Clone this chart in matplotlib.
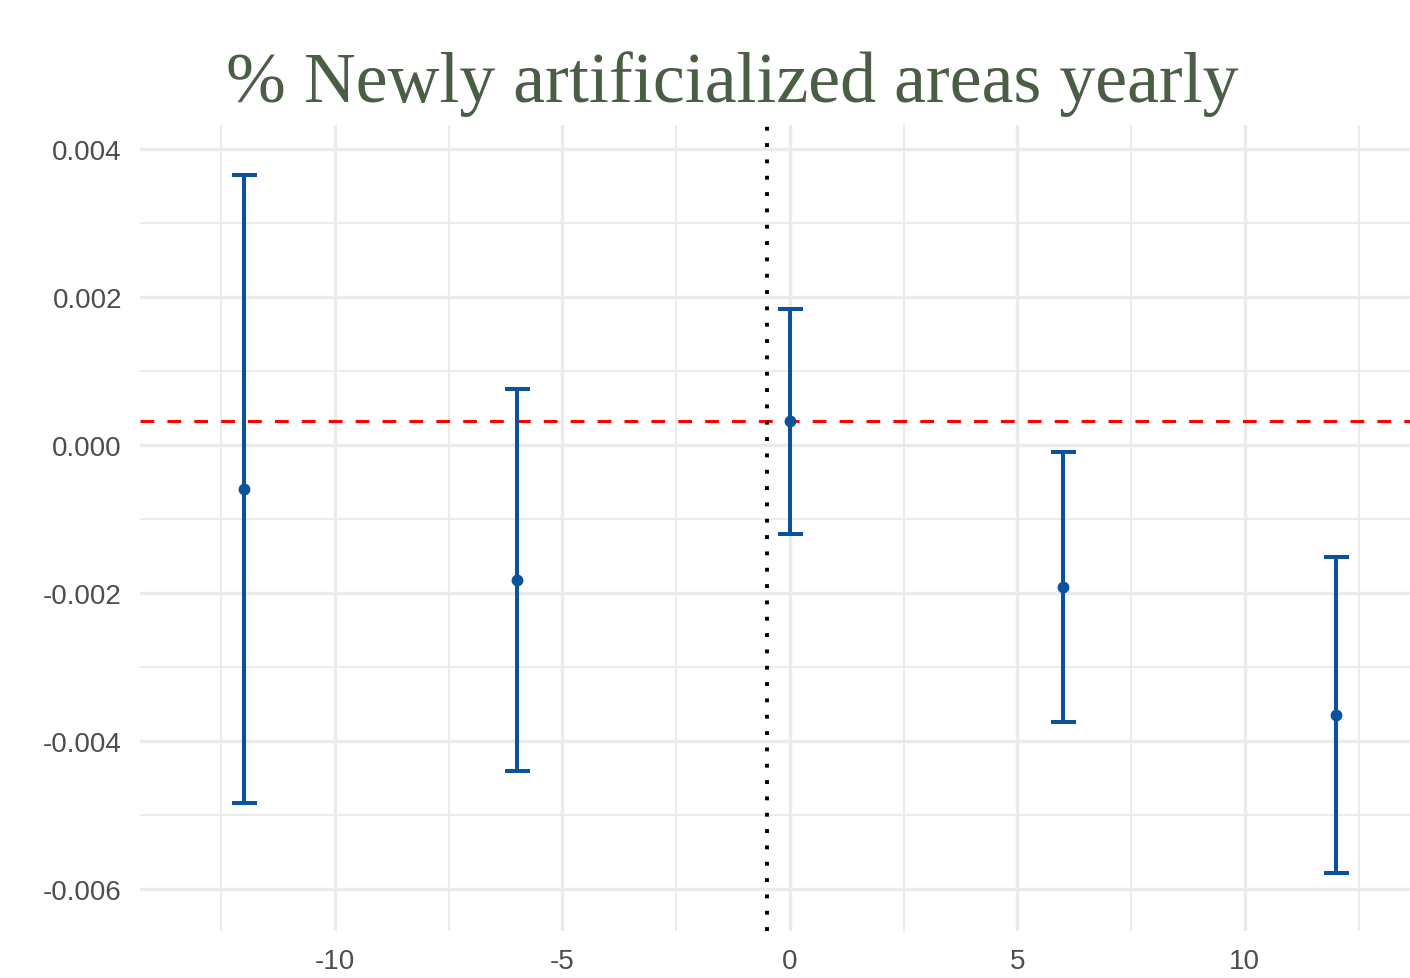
import matplotlib
matplotlib.use("Agg")
import matplotlib.pyplot as plt
import numpy as np

# event-time coefficients with confidence bounds
event_time = [-12, -6, 0, 6, 12]
estimate = [-0.000595, -0.001824, 0.000324, -0.001919, -0.003649]
ci_low = [-0.004838, -0.004405, -0.001203, -0.003743, -0.005784]
ci_high = [0.003649, 0.000757, 0.001838, -0.000095, -0.001514]

ref_level = 0.000324
treat_line = -0.5

x_ticks = [-10, -5, 0, 5, 10]
y_ticks = [-0.006, -0.004, -0.002, 0.000, 0.002, 0.004]

BLUE = "#0b529c"
GRID = "#ebebeb"

plt.rcParams["font.family"] = ["Liberation Sans", "DejaVu Sans"]

fig = plt.figure(figsize=(14.1, 9.79), dpi=100)
ax = fig.add_axes([140 / 1410, 1 - 932 / 979, 1 - 140 / 1410, (932 - 126) / 979])

est = np.array(estimate)
yerr = [est - np.array(ci_low), np.array(ci_high) - est]
ax.errorbar(event_time, est, yerr=yerr, fmt="o", color=BLUE, ecolor=BLUE,
            elinewidth=2.9, capsize=9, capthick=2.9, markersize=7.5, zorder=4)

ax.axhline(ref_level, color="#ff0000", linestyle=(0, (4.5, 4.3)), linewidth=2.2, zorder=3)
ax.axvline(treat_line, color="black", linestyle=(0, (1, 3.2)), linewidth=2.8, zorder=3)

ax.set_xlim(-14.28, 13.63)
ax.set_ylim(-0.00657, 0.00432)

ax.set_xticks(x_ticks)
ax.set_xticks([-12.5, -7.5, -2.5, 2.5, 7.5, 12.5], minor=True)
ax.set_yticks(y_ticks)
ax.set_yticks([-0.005, -0.003, -0.001, 0.001, 0.003], minor=True)
ax.set_xticklabels([str(t) for t in x_ticks])
ax.set_yticklabels([f"{t:.3f}" for t in y_ticks])

ax.grid(which="major", color=GRID, linewidth=2.4, zorder=0)
ax.grid(which="minor", color=GRID, linewidth=1.4, zorder=0)
ax.set_axisbelow(True)
for s in ax.spines.values():
    s.set_visible(False)
ax.tick_params(which="both", length=0, labelsize=20, labelcolor="#4d4d4d")
ax.tick_params(axis="y", pad=13)
ax.tick_params(axis="x", pad=12)

fig.text(732 / 1410, 1 - 102 / 979, "% Newly artificialized areas yearly",
         ha="center", va="baseline", fontsize=51.7, color="#4a5e45",
         family=["Liberation Serif", "DejaVu Serif"])

fig.savefig("out.png", dpi=100)
